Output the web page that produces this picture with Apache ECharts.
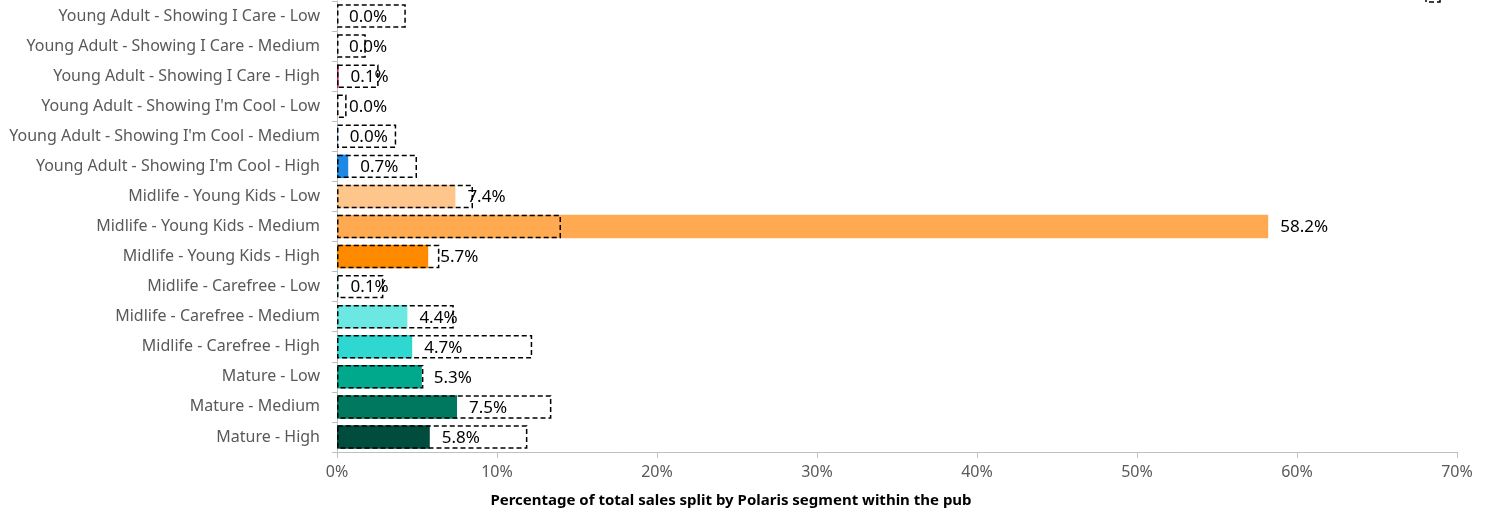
<!DOCTYPE html>
<html>
<head>
<meta charset="utf-8">
<script src="https://cdn.jsdelivr.net/npm/echarts@6/dist/echarts.min.js"></script>
<style>
  html, body { margin: 0; padding: 0; background: #fff; }
  #chart { width: 1491px; height: 514px; }
</style>
</head>
<body>
<div id="chart"></div>
<script>
const categories = [
  "Young Adult - Showing I Care - Low",
  "Young Adult - Showing I Care - Medium",
  "Young Adult - Showing I Care - High",
  "Young Adult - Showing I'm Cool - Low",
  "Young Adult - Showing I'm Cool - Medium",
  "Young Adult - Showing I'm Cool - High",
  "Midlife - Young Kids - Low",
  "Midlife - Young Kids - Medium",
  "Midlife - Young Kids - High",
  "Midlife - Carefree - Low",
  "Midlife - Carefree - Medium",
  "Midlife - Carefree - High",
  "Mature - Low",
  "Mature - Medium",
  "Mature - High"
];
// pub share (%)
const pubValues = [0.0, 0.0, 0.1, 0.0, 0.04, 0.7, 7.4, 58.2, 5.7, 0.1, 4.4, 4.7, 5.3, 7.5, 5.8];
// comparison (dashed outline) share (%)
const benchmarkValues = [4.3, 1.8, 2.6, 0.6, 3.7, 5.0, 8.5, 14.0, 6.4, 2.9, 7.3, 12.2, 5.4, 13.4, 11.9];
const barColors = ["#F8BBD0", "#F06292", "#D81B60", "#BBDEFB", "#64B5F6", "#1E88E5",
  "#FFC68C", "#FFAA50", "#FF8A00", "#B2F5F0", "#6BE8E2", "#2ED8D0", "#00A98C", "#00775F", "#004D3D"];
const xTicks = [0, 10, 20, 30, 40, 50, 60, 70];
const axisTitle = "Percentage of total sales split by Polaris segment within the pub";

const FONT = "Noto Sans";
const chart = echarts.init(document.getElementById('chart'), null, { renderer: 'canvas' });
chart.setOption({
  animation: false,
  textStyle: { fontFamily: FONT },
  grid: { left: 337, right: 34, top: 1, bottom: 62, containLabel: false },
  xAxis: {
    type: 'value',
    min: xTicks[0],
    max: xTicks[xTicks.length - 1],
    interval: 10,
    axisLine: { show: true, lineStyle: { color: '#BFBFBF', width: 1 } },
    axisTick: { show: true, length: 6, lineStyle: { color: '#BFBFBF' } },
    splitLine: { show: false },
    axisLabel: { color: '#595959', fontSize: 16, fontFamily: FONT, margin: 12, formatter: '{value}%' }
  },
  yAxis: {
    type: 'category',
    data: categories,
    inverse: true,
    axisLine: { show: true, lineStyle: { color: '#BFBFBF', width: 1 } },
    axisTick: { show: true, length: 5, lineStyle: { color: '#BFBFBF' } },
    axisLabel: { color: '#595959', fontSize: 16, fontFamily: FONT, margin: 17 }
  },
  series: [
    {
      name: 'Pub',
      type: 'bar',
      data: pubValues.map((v, i) => ({ value: v, itemStyle: { color: barColors[i] } })),
      barCategoryGap: '22%',
      barGap: '-100%',
      z: 2,
      label: {
        show: true,
        position: 'right',
        distance: 12,
        color: '#000',
        fontSize: 17,
        fontFamily: FONT,
        offset: [0, 1],
        formatter: p => p.value.toFixed(1) + '%'
      }
    },
    {
      name: 'Benchmark',
      type: 'bar',
      data: benchmarkValues,
      barCategoryGap: '22%',
      barGap: '-100%',
      z: 3,
      silent: true,
      itemStyle: { color: 'rgba(0,0,0,0)', borderColor: '#000', borderWidth: 1.5, borderType: [5, 3] }
    }
  ],
  graphic: [
    {
      type: 'text',
      x: 731,
      y: 501,
      style: { text: axisTitle, fontSize: 15, fontWeight: 'bold', fill: '#000', fontFamily: FONT, align: 'center', verticalAlign: 'middle' }
    },
    {
      type: 'rect',
      shape: { x: 1426, y: -10, width: 14, height: 12 },
      style: { fill: 'none', stroke: '#000', lineWidth: 1.5, lineDash: [5, 3] }
    }
  ]
});
</script>
</body>
</html>
